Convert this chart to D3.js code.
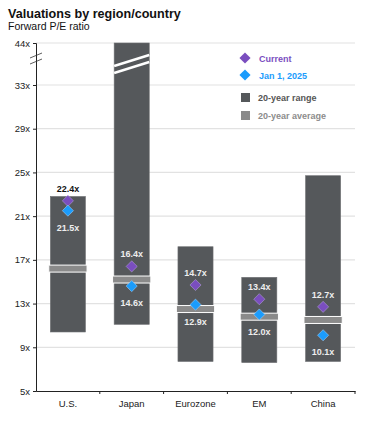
<!DOCTYPE html>
<html>
<head>
<meta charset="utf-8">
<script src="https://cdn.jsdelivr.net/npm/d3@7"></script>
<style>
  body { margin: 0; background: #fff; }
  svg { font-family: Arial, "Liberation Sans", sans-serif; }
</style>
</head>
<body>
<div id="chart"></div>
<script>
// values
const regions = ["U.S.", "Japan", "Eurozone", "EM", "China"];
const rangeLow = [10.4, 11.1, 7.7, 7.6, 7.7];
const rangeHigh = [22.8, 44, 18.2, 15.4, 24.7];
const avg20 = [16.2, 15.2, 12.5, 11.8, 11.5];
const current = [22.4, 16.4, 14.7, 13.4, 12.7];
const jan2025 = [21.5, 14.6, 12.9, 12.0, 10.1];
const yTicks = [5, 9, 13, 17, 21, 25, 29, 33, 44];

const width = 369, height = 423;
const purple = "#7a4ebf", blue = "#1b9cfc", barColor = "#55585b", avgColor = "#8a8a8a";

const svg = d3.select("#chart").append("svg").attr("width", width).attr("height", height);

svg.append("text").attr("x", 8).attr("y", 18).attr("font-size", 12.6).attr("font-weight", "bold")
  .attr("fill", "#111").text("Valuations by region/country");
svg.append("text").attr("x", 8).attr("y", 30).attr("font-size", 10.5).attr("fill", "#111")
  .text("Forward P/E ratio");

const left = 36, right = 355;
// axis is broken between 33x and 44x
const y = d3.scaleLinear().domain([5, 33, 44]).range([391, 85, 43]);
const x = d3.scaleBand().domain(regions).range([left, right]);
const barW = x.bandwidth() * 0.55, avgW = x.bandwidth() * 0.6;

// gridlines
svg.append("g").selectAll("line").data(yTicks.slice(1)).join("line")
  .attr("x1", left).attr("x2", right).attr("y1", d => y(d)).attr("y2", d => y(d))
  .attr("stroke", "#e2e2e2").attr("stroke-width", 1.2);

// legend
const lg = svg.append("g");
const diamond = d3.symbol().type(d3.symbolSquare).size(62);
lg.append("path").attr("d", diamond).attr("transform", "translate(245,58) rotate(45)").attr("fill", purple);
lg.append("text").attr("x", 259).attr("y", 61.5).attr("font-size", 9).attr("font-weight", "bold").attr("fill", purple).text("Current");
lg.append("path").attr("d", diamond).attr("transform", "translate(245,75) rotate(45)").attr("fill", blue);
lg.append("text").attr("x", 259).attr("y", 78.5).attr("font-size", 9).attr("font-weight", "bold").attr("fill", blue).text("Jan 1, 2025");
lg.append("rect").attr("x", 241).attr("y", 93).attr("width", 9).attr("height", 9).attr("fill", barColor);
lg.append("text").attr("x", 258).attr("y", 101).attr("font-size", 9).attr("font-weight", "bold").attr("fill", "#555").text("20-year range");
lg.append("rect").attr("x", 241).attr("y", 111).attr("width", 9).attr("height", 9).attr("fill", avgColor);
lg.append("text").attr("x", 258).attr("y", 119).attr("font-size", 9).attr("font-weight", "bold").attr("fill", "#8c8c8c").text("20-year average");

// ranges
const g = svg.append("g");
regions.forEach((r, i) => {
  const cx = x(r) + x.bandwidth() / 2;
  const top = y(rangeHigh[i]);
  g.append("rect").attr("x", cx - barW / 2).attr("y", top)
    .attr("width", barW).attr("height", y(rangeLow[i]) - top)
    .attr("fill", barColor).attr("stroke", "#6e7073").attr("stroke-width", 0.6);
  g.append("rect").attr("x", cx - avgW / 2).attr("y", y(avg20[i]) - 3.5)
    .attr("width", avgW).attr("height", 7)
    .attr("fill", avgColor).attr("stroke", "#fff").attr("stroke-width", 1);

  g.append("path").attr("d", diamond).attr("transform", `translate(${cx},${y(current[i])}) rotate(45)`)
    .attr("fill", purple).attr("stroke", "#b9a6dd").attr("stroke-width", 0.5);
  g.append("path").attr("d", diamond).attr("transform", `translate(${cx},${y(jan2025[i])}) rotate(45)`)
    .attr("fill", blue).attr("stroke", "#a9d7ff").attr("stroke-width", 0.5);

  const cy = y(current[i]) - 9;
  g.append("text").attr("x", cx).attr("y", cy).attr("text-anchor", "middle")
    .attr("font-size", 9).attr("font-weight", "bold")
    .attr("fill", cy - 8 < top ? "#111" : "#eee").text(current[i].toFixed(1) + "x");
  g.append("text").attr("x", cx).attr("y", y(jan2025[i]) + 20).attr("text-anchor", "middle")
    .attr("font-size", 9).attr("font-weight", "bold").attr("fill", "#eee")
    .text(jan2025[i].toFixed(1) + "x");
});

// break marks on the Japan bar
const jx = x("Japan") + x.bandwidth() / 2;
[0, 7].forEach(off => {
  g.append("line").attr("x1", jx - barW / 2).attr("x2", jx + barW / 2)
    .attr("y1", 66 + off).attr("y2", 55 + off)
    .attr("stroke", "#fff").attr("stroke-width", 2.5);
});

// y axis
const yAxis = d3.axisLeft(y).tickValues(yTicks).tickSize(3).tickFormat(d => d + "x");
const ya = svg.append("g").attr("transform", `translate(${left},0)`).call(yAxis);
ya.select(".domain").attr("stroke", "#222");
ya.selectAll(".tick line").attr("stroke", "#222");
ya.selectAll(".tick text").attr("font-size", 9.5).attr("fill", "#222").attr("font-family", "Arial, 'Liberation Sans', sans-serif");

// axis break slashes
[0, 6].forEach(off => {
  svg.append("line").attr("x1", 30).attr("x2", 42).attr("y1", 58 + off).attr("y2", 53 + off)
    .attr("stroke", "#333").attr("stroke-width", 0.8);
});

// x axis
const xAxis = d3.axisBottom(x).tickSize(0).tickPadding(9);
const xa = svg.append("g").attr("transform", `translate(0,${y(5)})`).call(xAxis);
xa.select(".domain").attr("stroke", "#222").attr("stroke-width", 1.2);
xa.selectAll(".tick text").attr("font-size", 9.5).attr("fill", "#222").attr("font-family", "Arial, 'Liberation Sans', sans-serif");
// category separators
svg.append("g").selectAll("line").data(regions.slice(1).concat([null])).join("line")
  .attr("x1", d => d ? x(d) : right).attr("x2", d => d ? x(d) : right)
  .attr("y1", y(5)).attr("y2", y(5) + 3).attr("stroke", "#222");
</script>
</body>
</html>
